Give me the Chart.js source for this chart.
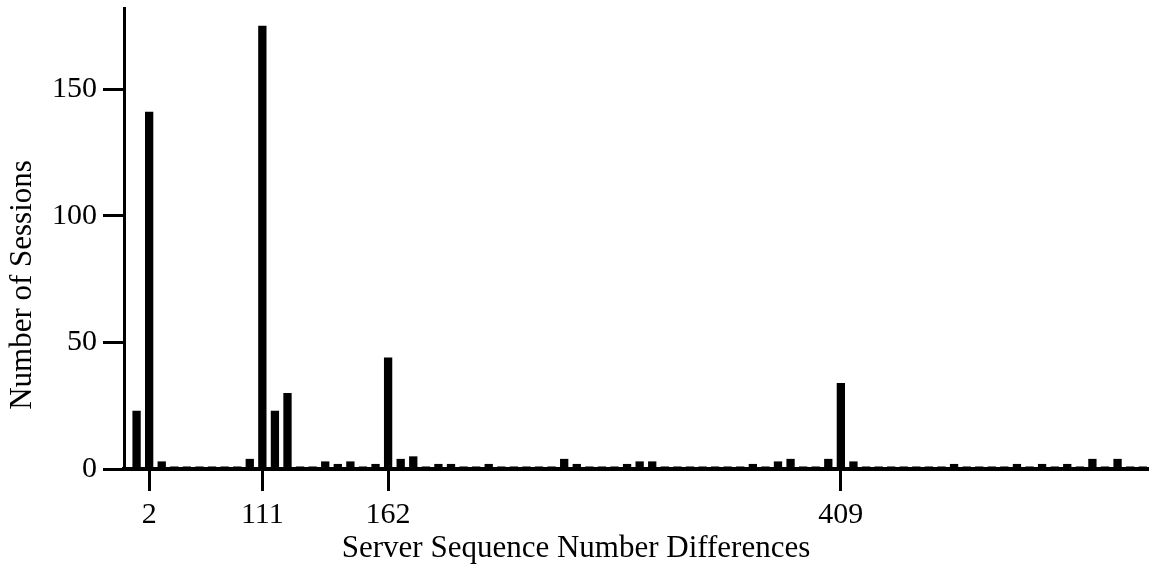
<!DOCTYPE html>
<html>
<head>
<meta charset="utf-8">
<script src="https://cdn.jsdelivr.net/npm/chart.js@4.4.0/dist/chart.umd.min.js"></script>
<style>
  html, body { margin: 0; padding: 0; background: #fff; }
  #wrap { width: 1149px; height: 565px; }
</style>
</head>
<body>
<div id="wrap"><canvas id="chart"></canvas></div>
<script>
// categories: only the labelled differences are readable in the picture
const categories = [
  '', '2', '', '', '', '', '', '', '', '',
  '111', '', '', '', '', '', '', '', '', '',
  '162', '', '', '', '', '', '', '', '', '',
  '', '', '', '', '', '', '', '', '', '',
  '', '', '', '', '', '', '', '', '', '',
  '', '', '', '', '', '', '409', '', '', '',
  '', '', '', '', '', '', '', '', '', '',
  '', '', '', '', '', '', '', '', '', '',
  ''
];

// number of sessions per difference
const sessions = [
  23, 141, 3, 1, 1, 1, 1, 1, 1, 4,
  175, 23, 30, 1, 1, 3, 2, 3, 1, 2,
  44, 4, 5, 1, 2, 2, 1, 1, 2, 1,
  1, 1, 1, 1, 4, 2, 1, 1, 1, 2,
  3, 3, 1, 1, 1, 1, 1, 1, 1, 2,
  1, 3, 4, 1, 1, 4, 34, 3, 1, 1,
  1, 1, 1, 1, 1, 2, 1, 1, 1, 1,
  2, 1, 2, 1, 2, 1, 4, 1, 4, 1,
  1
];

const yTicks = [0, 50, 100, 150];
const xTitle = 'Server Sequence Number Differences';
const yTitle = 'Number of Sessions';

const FONT = '"Liberation Serif", "DejaVu Serif", serif';
Chart.defaults.font.family = FONT;
Chart.defaults.color = '#000';

// indexes that carry a tick label
const labelled = categories.map((c, i) => c ? i : -1).filter(i => i >= 0);

// axis titles sit off-centre in the original, so draw them here
const axisTitles = {
  id: 'axisTitles',
  afterDraw(chart) {
    const { ctx, chartArea } = chart;
    ctx.save();
    ctx.fillStyle = '#000';
    ctx.font = '31px ' + FONT;
    ctx.textAlign = 'center';
    ctx.textBaseline = 'middle';
    ctx.fillText(xTitle, chartArea.left + 452, chartArea.bottom + 80);
    ctx.translate(23, chartArea.top + 277);
    ctx.rotate(-Math.PI / 2);
    ctx.fillText(yTitle, 0, 0);
    ctx.restore();
  }
};

new Chart(document.getElementById('chart'), {
  type: 'bar',
  data: {
    datasets: [{
      data: sessions.map((v, i) => ({ x: i, y: v })),
      backgroundColor: '#000',
      borderWidth: 0,
      barPercentage: 0.66,
      categoryPercentage: 1
    }]
  },
  options: {
    responsive: true,
    maintainAspectRatio: false,
    animation: false,
    layout: { padding: { top: 8, right: 0, left: 0, bottom: 0 } },
    plugins: {
      legend: { display: false },
      tooltip: { enabled: false }
    },
    scales: {
      x: {
        type: 'linear',
        min: -1,
        max: 80.5,
        offset: false,
        afterBuildTicks: s => { s.ticks = labelled.map(i => ({ value: i })); },
        afterFit: s => { s.height = 96; s.paddingLeft = 0; s.paddingRight = 0; },
        grid: { drawOnChartArea: false, offset: false, tickLength: 22, lineWidth: 3, color: '#000' },
        border: { color: '#000', width: 4 },
        ticks: {
          autoSkip: false,
          maxRotation: 0,
          padding: 6,
          color: '#000',
          font: { size: 30 },
          callback: v => categories[v]
        }
      },
      y: {
        min: 0,
        max: 182,
        afterBuildTicks: s => { s.ticks = yTicks.map(v => ({ value: v })); },
        afterFit: s => { s.width = 124; s.paddingTop = 0; s.paddingBottom = 0; },
        grid: { drawOnChartArea: false, tickLength: 21, lineWidth: 3, color: '#000' },
        border: { color: '#000', width: 3 },
        ticks: { padding: 6, color: '#000', font: { size: 30 } }
      }
    }
  },
  plugins: [axisTitles]
});
</script>
</body>
</html>
